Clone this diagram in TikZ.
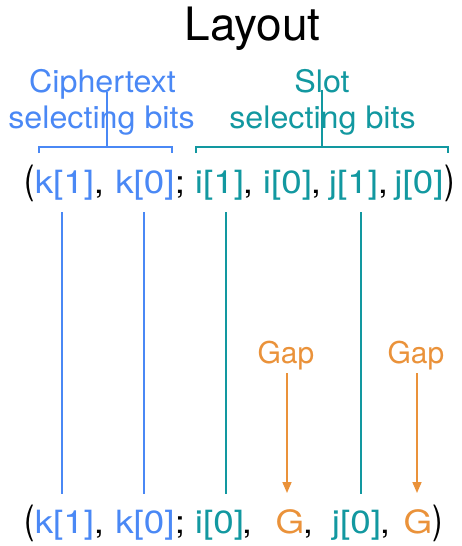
\documentclass[tikz,border=0pt]{standalone}
\usepackage{fontspec}
\setmainfont{TeX Gyre Heros}
\newfontfamily\tokfont[FakeStretch=1.15]{TeX Gyre Heros}
\newfontfamily\lblfont[FakeStretch=1.04]{TeX Gyre Heros}
\newfontfamily\parenfont[FakeStretch=0.8]{TeX Gyre Heros}
\usetikzlibrary{arrows.meta}
\definecolor{cipherblue}{RGB}{74,136,245}
\definecolor{slotteal}{RGB}{18,152,160}
\definecolor{gaporange}{RGB}{234,146,58}
\begin{document}
\begin{tikzpicture}[x=1pt,y=-1pt,
  tok/.style={inner sep=0pt, anchor=base, font=\tokfont\fontsize{32}{40}\selectfont},
  paren/.style={inner sep=0pt, anchor=base, font=\parenfont\fontsize{39}{44}\selectfont},
  lbl/.style={inner sep=0pt, anchor=base, font=\lblfont\fontsize{31}{36}\selectfont},
  gaplbl/.style={inner sep=0pt, anchor=base, text=gaporange, font=\fontsize{30}{36}\selectfont},
  brace/.style={line width=2pt, line join=miter},
  bitline/.style={line width=1.6pt},
  gaparrow/.style={line width=1.6pt, draw=gaporange, -{Triangle[width=9pt,length=11pt]}}]
\useasboundingbox (0,0) rectangle (461,546);

% title
\node[inner sep=0pt, anchor=base, font=\fontsize{46}{52}\selectfont] (title) at (252.5,40) {Layout};

% group labels
\node[lbl, text=cipherblue] (ct-a) at (102.5,92) {Ciphertext};
\node[lbl, text=cipherblue] (ct-b) at (101.5,128) {selecting bits};
\node[lbl, text=slotteal] (sl-a) at (322,92) {Slot};
\node[lbl, text=slotteal] (sl-b) at (322.5,128) {selecting bits};

% square braces over the index groups
\draw[brace, cipherblue] (39,153) -- (39,147) -- (172,147) -- (172,153);
\draw[brace, cipherblue] (107,147) -- (107,92);
\draw[brace, slotteal] (196,153) -- (196,147) -- (448,147) -- (448,153);
\draw[brace, slotteal] (322,147) -- (322,90);

% original index tuple
\node[paren] (t-open) at (30,193) {(};
\node[tok, text=cipherblue] (t-k1) at (64.5,193) {k[1]};
\node[tok] (t-c1) at (99,193) {,};
\node[tok, text=cipherblue] (t-k0) at (145,193) {k[0]};
\node[tok] (t-semi) at (180,193) {;};
\node[tok, text=slotteal] (t-i1) at (219.5,193) {i[1]};
\node[tok] (t-c2) at (248,193) {,};
\node[tok, text=slotteal] (t-i0) at (287.5,193) {i[0]};
\node[tok] (t-c3) at (316,193) {,};
\node[tok, text=slotteal] (t-j1) at (353.5,193) {j[1]};
\node[tok] (t-c4) at (383,193) {,};
\node[tok, text=slotteal] (t-j0) at (419,193) {j[0]};
\node[paren] (t-close) at (450,193) {)};

% gapped index tuple
\node[paren] (b-open) at (30,533) {(};
\node[tok, text=cipherblue] (b-k1) at (64.5,533) {k[1]};
\node[tok] (b-c1) at (99,533) {,};
\node[tok, text=cipherblue] (b-k0) at (145,533) {k[0]};
\node[tok] (b-semi) at (180,533) {;};
\node[tok, text=slotteal] (b-i0) at (219.5,533) {i[0]};
\node[tok] (b-c2) at (247,533) {,};
\node[tok, text=gaporange] (b-g1) at (290,533) {G};
\node[tok] (b-c3) at (308,533) {,};
\node[tok, text=slotteal] (b-j0) at (356.5,533) {j[0]};
\node[tok] (b-c4) at (385,533) {,};
\node[tok, text=gaporange] (b-g2) at (418,533) {G};
\node[paren] (b-close) at (438,533) {)};

% bits carried over
\draw[bitline, cipherblue] ([xshift=-2.5pt,yshift=-19pt]t-k1.base) -- ([xshift=-2.5pt,yshift=39pt]b-k1.base);
\draw[bitline, cipherblue] ([xshift=-1pt,yshift=-19pt]t-k0.base) -- ([xshift=-1pt,yshift=39pt]b-k0.base);
\draw[bitline, slotteal] ([xshift=6.5pt,yshift=-19pt]t-i1.base) -- ([xshift=6.5pt,yshift=39pt]b-i0.base);
\draw[bitline, slotteal] ([xshift=7.5pt,yshift=-19pt]t-j1.base) -- ([xshift=4.5pt,yshift=39pt]b-j0.base);

% gap insertions
\node[gaplbl] (gap1) at (286,363) {Gap};
\node[gaplbl] (gap2) at (416,363) {Gap};
\draw[gaparrow] ([xshift=1pt,yshift=-10pt]gap1.base) -- ([xshift=-3pt,yshift=40pt]b-g1.base);
\draw[gaparrow] ([xshift=1pt,yshift=-10pt]gap2.base) -- ([xshift=-1pt,yshift=40pt]b-g2.base);
\end{tikzpicture}
\end{document}
